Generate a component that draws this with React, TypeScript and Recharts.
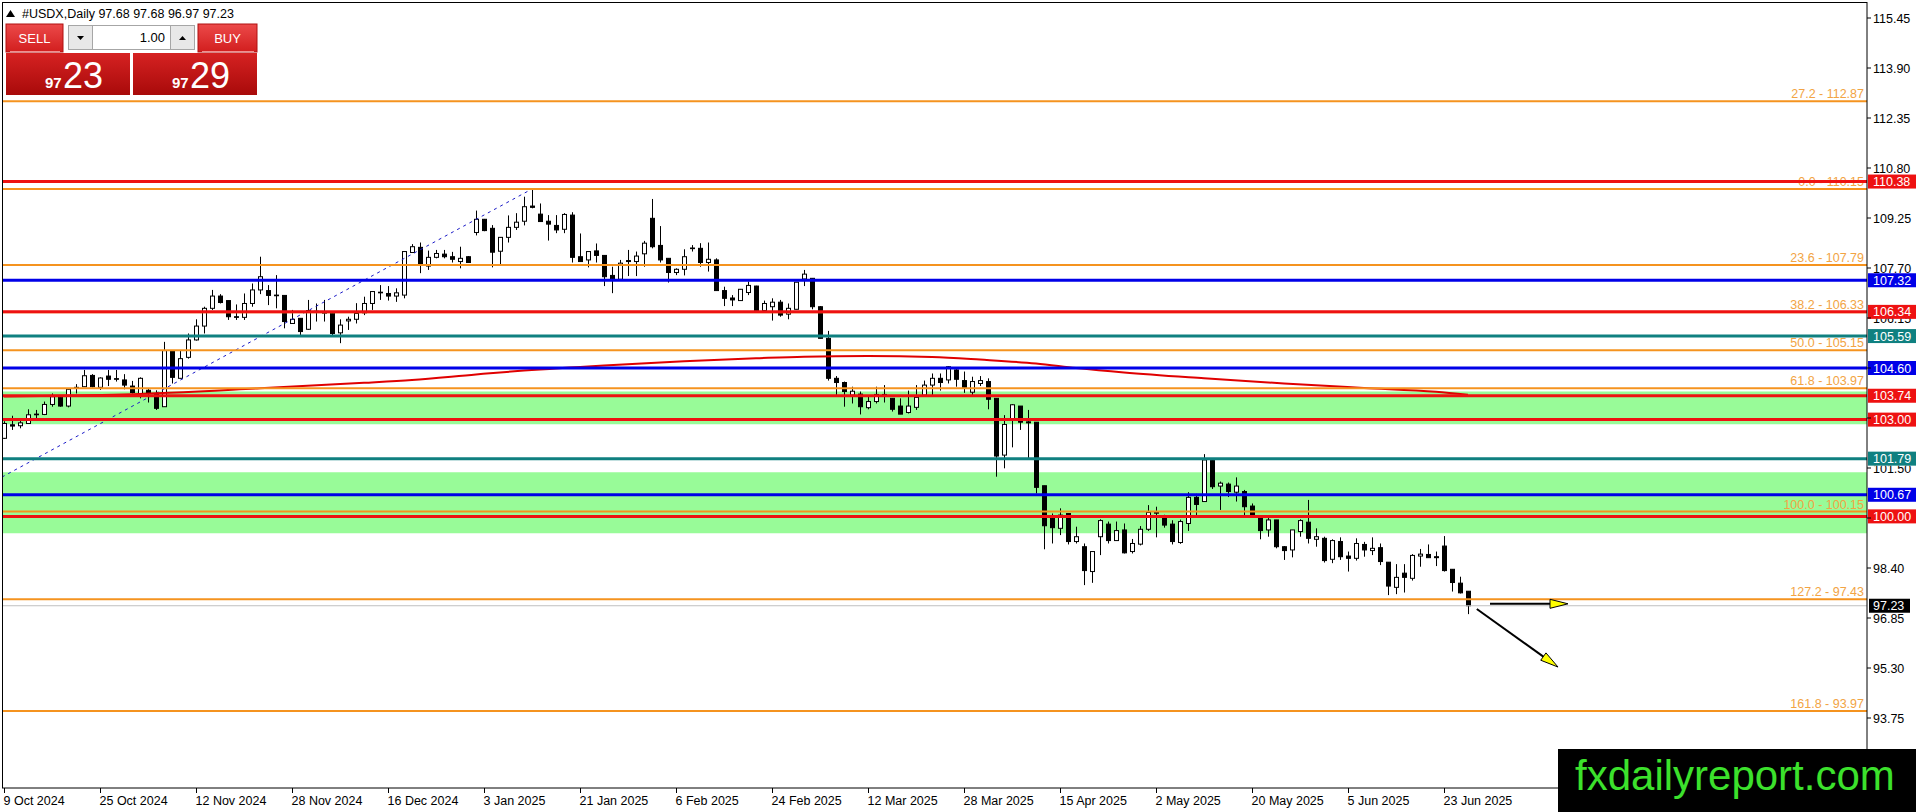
import React from 'react'
import {
  ComposedChart,
  Bar,
  Line,
  XAxis,
  YAxis,
  ReferenceLine,
  ReferenceArea,
} from 'recharts'

const FONT = '"Liberation Sans", Arial, sans-serif'
const W = 1916
const H = 812
const AXIS_W = 49
const DATE_H = 24
const PLOT_BOTTOM = H - DATE_H

// daily bars, 9 Oct 2024 .. 27 Jun 2025
const opens = [
  102.42, 102.84, 102.81, 102.88, 103.15, 103.16, 103.47, 103.69, 103.42, 103.97,
  104.02, 104.37, 104.0, 104.35, 104.27, 104.23, 104.04, 103.81, 103.91, 103.81,
  103.4, 105.14, 104.28, 104.93, 105.47, 105.9, 106.45, 106.83, 106.69, 106.19,
  106.17, 106.6, 107.02, 107.0, 106.86, 106.85, 105.98, 106.14, 105.8, 106.34,
  106.3, 106.3, 105.69, 106.06, 106.11, 106.31, 106.6, 106.93, 106.91, 106.83,
  106.86, 108.18, 108.34, 107.76, 108.03, 108.13, 108.05, 107.9, 108.05, 108.8,
  109.21, 108.93, 108.22, 108.65, 108.96, 109.15, 109.62, 109.37, 109.15, 109.02,
  108.9, 109.34, 108.05, 107.95, 108.23, 108.09, 107.47, 107.35, 107.93, 107.9,
  108.14, 109.24, 108.4, 108.0, 107.56, 107.66, 108.32, 108.31, 107.87, 107.95,
  107.0, 106.77, 106.69, 106.94, 107.14, 106.38, 106.5, 106.64, 106.27, 106.42,
  107.36, 107.38, 106.5, 105.52, 104.28, 104.15, 103.76, 103.79, 103.37, 103.56,
  103.78, 103.66, 103.42, 103.22, 103.38, 103.76, 104.07, 104.28, 104.23, 104.54,
  104.21, 103.85, 104.12, 104.18, 103.66, 101.9, 102.99, 103.42, 102.93, 102.92,
  100.95, 99.94, 99.63, 100.09, 99.22, 99.06, 98.29, 99.37, 99.76, 99.25,
  99.58, 98.91, 99.14, 99.6, 100.15, 99.97, 99.76, 99.19, 99.78, 100.59,
  100.46, 101.73, 100.94, 101.0, 100.75, 100.77, 100.32, 99.97, 99.58, 99.89,
  99.06, 98.96, 99.53, 99.82, 99.29, 99.32, 98.67, 99.22, 98.77, 98.7,
  99.13, 98.94, 99.03, 98.58, 97.8, 98.24, 98.08, 98.77, 98.82, 98.75,
  99.08, 98.36, 97.93, 97.68,
]
const highs = [
  102.95, 103.12, 102.99, 103.32, 103.3, 103.56, 103.81, 103.7, 103.97, 104.1,
  104.54, 104.41, 104.31, 104.54, 104.54, 104.41, 104.2, 104.31, 103.97, 103.91,
  105.41, 105.14, 105.14, 105.67, 106.11, 106.5, 107.02, 106.89, 106.69, 106.57,
  106.91, 107.22, 108.05, 107.17, 107.48, 106.85, 106.4, 106.14, 106.71, 106.6,
  106.71, 106.3, 106.11, 106.19, 106.61, 106.81, 106.97, 107.17, 107.14, 107.07,
  108.21, 108.44, 108.49, 108.24, 108.26, 108.26, 108.2, 108.36, 108.07, 109.48,
  109.22, 109.03, 108.66, 109.33, 109.4, 109.91, 110.15, 109.7, 109.34, 109.34,
  109.4, 109.43, 108.77, 108.21, 108.46, 108.1, 107.74, 107.95, 108.26, 108.21,
  108.54, 109.84, 109.0, 108.0, 107.69, 108.28, 108.41, 108.47, 108.49, 108.0,
  107.12, 106.86, 107.05, 107.28, 107.15, 106.69, 106.76, 106.71, 106.6, 107.26,
  107.64, 107.38, 106.52, 105.75, 104.35, 104.18, 104.02, 103.87, 103.71, 104.02,
  104.07, 103.66, 103.66, 103.9, 104.07, 104.21, 104.43, 104.43, 104.66, 104.59,
  104.49, 104.33, 104.35, 104.28, 103.66, 103.14, 103.48, 103.42, 103.3, 102.92,
  100.95, 100.09, 100.25, 100.09, 99.68, 99.16, 98.91, 99.91, 99.84, 99.84,
  99.78, 99.3, 99.7, 100.35, 100.3, 100.05, 99.88, 99.9, 100.75, 100.7,
  101.93, 101.75, 101.08, 101.05, 101.21, 100.82, 100.4, 99.97, 100.04, 99.89,
  99.08, 99.58, 99.91, 100.51, 99.63, 99.37, 99.29, 99.35, 98.91, 99.32,
  99.21, 99.35, 99.16, 98.58, 98.52, 98.52, 98.83, 98.99, 99.13, 98.91,
  99.39, 98.36, 98.13, 97.68,
]
const lows = [
  102.4, 102.68, 102.73, 102.88, 103.04, 103.14, 103.4, 103.4, 103.38, 103.81,
  104.02, 104.0, 103.92, 104.04, 104.18, 103.94, 103.81, 103.66, 103.53, 103.3,
  103.4, 104.12, 104.28, 104.89, 105.45, 105.67, 106.4, 106.6, 106.09, 106.09,
  106.09, 106.5, 106.89, 106.55, 106.45, 105.83, 105.98, 105.62, 105.78, 106.04,
  106.04, 105.62, 105.37, 105.78, 105.98, 106.24, 106.4, 106.71, 106.69, 106.65,
  106.76, 108.18, 107.54, 107.64, 108.0, 108.0, 107.87, 107.69, 107.87, 108.71,
  108.84, 107.72, 107.82, 108.49, 108.88, 109.02, 109.55, 109.13, 108.55, 108.78,
  108.78, 107.87, 107.9, 107.72, 107.87, 107.14, 106.92, 107.35, 107.45, 107.45,
  107.74, 108.31, 107.87, 107.25, 107.48, 107.47, 108.21, 107.74, 107.59, 107.0,
  106.52, 106.52, 106.68, 106.86, 106.35, 106.38, 106.07, 106.19, 106.11, 106.42,
  107.14, 106.42, 105.52, 104.21, 103.76, 103.4, 103.5, 103.16, 103.32, 103.5,
  103.53, 103.25, 103.17, 103.19, 103.3, 103.71, 103.76, 103.9, 104.12, 104.02,
  103.83, 103.76, 104.04, 103.32, 101.23, 101.49, 102.14, 102.68, 101.8, 100.71,
  98.98, 99.16, 99.42, 99.13, 99.16, 97.87, 97.94, 98.8, 99.16, 99.25,
  98.85, 98.85, 99.1, 99.55, 99.35, 99.65, 99.13, 99.15, 99.55, 100.0,
  100.46, 100.85, 100.2, 100.6, 100.46, 100.04, 100.0, 99.29, 99.37, 99.01,
  98.65, 98.73, 99.37, 99.16, 99.06, 98.57, 98.55, 98.65, 98.29, 98.63,
  98.75, 98.8, 98.49, 97.56, 97.59, 97.64, 98.01, 98.44, 98.72, 98.46,
  98.29, 97.67, 97.61, 96.97,
]
const closes = [
  102.88, 102.8, 102.9, 103.15, 103.17, 103.47, 103.71, 103.42, 103.94, 104.0,
  104.36, 104.02, 104.29, 104.25, 104.25, 104.07, 103.84, 104.28, 103.81, 103.35,
  105.14, 104.31, 104.89, 105.47, 105.9, 106.45, 106.83, 106.63, 106.19, 106.17,
  106.6, 107.02, 107.43, 106.85, 106.84, 106.04, 106.11, 105.73, 106.38, 106.36,
  106.32, 105.67, 105.93, 106.11, 106.29, 106.6, 106.97, 106.95, 106.83, 106.93,
  108.21, 108.36, 107.82, 108.03, 108.15, 108.05, 107.97, 108.0, 107.87, 109.21,
  108.86, 108.19, 108.65, 108.96, 109.12, 109.6, 109.58, 109.14, 109.06, 108.88,
  109.36, 108.03, 107.9, 108.21, 108.09, 107.43, 107.37, 107.85, 107.9, 108.07,
  108.47, 108.36, 107.95, 107.56, 107.66, 108.05, 108.3, 107.87, 107.97, 107.0,
  106.76, 106.71, 107.04, 107.16, 106.38, 106.6, 106.64, 106.24, 106.45, 107.26,
  107.51, 106.5, 105.52, 104.28, 104.15, 103.87, 103.88, 103.4, 103.56, 103.78,
  103.76, 103.32, 103.17, 103.42, 103.69, 104.07, 104.28, 104.15, 104.64, 104.25,
  104.0, 104.18, 104.21, 103.63, 101.87, 102.85, 103.46, 102.92, 102.9, 100.9,
  99.71, 99.65, 100.04, 99.22, 99.37, 98.32, 98.91, 99.87, 99.25, 99.56,
  98.87, 99.16, 99.6, 100.12, 100.1, 99.73, 99.22, 99.84, 100.59, 100.37,
  101.75, 100.92, 101.03, 100.77, 100.94, 100.3, 100.04, 99.56, 99.89, 99.06,
  98.94, 99.58, 99.87, 99.32, 99.37, 98.63, 99.25, 98.75, 98.7, 99.16,
  98.96, 99.01, 98.6, 97.84, 98.11, 98.11, 98.79, 98.83, 98.72, 98.72,
  98.32, 97.95, 97.63, 97.23,
]

const dateTicks = [0, 12, 24, 36, 48, 60, 72, 84, 96, 108, 120, 132, 144, 156, 168, 180]
const dateLabels = [
  '9 Oct 2024', '25 Oct 2024', '12 Nov 2024', '28 Nov 2024', '16 Dec 2024', '3 Jan 2025',
  '21 Jan 2025', '6 Feb 2025', '24 Feb 2025', '12 Mar 2025', '28 Mar 2025', '15 Apr 2025',
  '2 May 2025', '20 May 2025', '5 Jun 2025', '23 Jun 2025',
]
const priceTicks = [
  115.45, 113.9, 112.35, 110.8, 109.25, 107.7, 106.15, 104.6, 103.05, 101.5, 99.95, 98.4,
  96.85, 95.3, 93.75,
]

const fibRatios = ['27.2', '0.0', '23.6', '38.2', '50.0', '61.8', '100.0', '127.2', '161.8']
const fibPrices = [112.87, 110.15, 107.79, 106.33, 105.15, 103.97, 100.15, 97.43, 93.97]

const levelPrices = [110.38, 107.32, 106.34, 105.59, 104.6, 103.74, 103.0, 101.79, 100.67, 100.0]
const levelKinds = ['red', 'blue', 'red', 'teal', 'blue', 'red', 'red', 'teal', 'blue', 'red']
const lastPrice = 97.23

const zoneLows = [102.86, 99.48]
const zoneHighs = [103.87, 101.37]

// hand drawn arc over the range
const arcBars = [0, 15, 32, 45, 51, 59, 65, 75, 85, 94, 100, 108, 116, 122, 129, 134, 140, 150, 160, 170, 179, 183]
const arcValues = [
  103.72, 103.78, 103.97, 104.14, 104.23, 104.4, 104.52, 104.68, 104.81, 104.9, 104.95,
  104.97, 104.94, 104.86, 104.74, 104.6, 104.46, 104.28, 104.12, 103.98, 103.86, 103.77,
]

// fibo base line (dotted)
const trendBars = [-0.25, 66]
const trendValues = [101.22, 110.15]

// projection arrows: [bar, price] start -> end
const arrowStarts = [[185.75, 97.29], [184.1, 97.13]]
const arrowEnds = [[195.5, 97.29], [194.25, 95.33]]

const X_DOMAIN: [number, number] = [-0.25, 232.875]
const Y_DOMAIN: [number, number] = [91.58, 115.946]

const COLORS: Record<string, string> = {
  red: '#EE1111',
  blue: '#0000E8',
  teal: '#0F8080',
  fib: '#F5931F',
  fibText: '#F2A444',
}

const rows = opens.map((o, i) => ({ i, open: o, high: highs[i], low: lows[i], close: closes[i] }))
const arcData = arcBars.map((b, k) => ({ i: b, v: arcValues[k] }))
const trendData = trendBars.map((b, k) => ({ i: b, v: trendValues[k] }))

// axis label boxes sit on top of the scale; a tick hidden by one is not drawn
const boxPrices = [...levelPrices, lastPrice]
const PX_PER_UNIT = (H - DATE_H - 2) / (Y_DOMAIN[1] - Y_DOMAIN[0])

function Candle(props: any) {
  const { x, y, width, height, payload } = props
  if (!payload) return null
  const { open, high, low, close } = payload
  const top = Math.min(y, y + height)
  const h = Math.abs(height)
  const ppu = h / (high - low || 1)
  const cx = Math.round(x + width / 2) + 0.5
  const yOf = (v: number) => top + (high - v) * ppu
  const bTop = yOf(Math.max(open, close))
  const bBot = yOf(Math.min(open, close))
  const up = close >= open
  return (
    <g>
      <line x1={cx} x2={cx} y1={top} y2={top + h} stroke="#000" strokeWidth={1} />
      <rect
        x={cx - 2}
        y={bTop}
        width={4}
        height={Math.max(bBot - bTop, 0.6)}
        fill={up ? '#fff' : '#000'}
        stroke="#000"
        strokeWidth={1}
      />
    </g>
  )
}

const PriceTick = (props: any) => {
  const { x, y, payload } = props
  const v = payload.value as number
  const nearest = Math.min(...boxPrices.map((b) => Math.abs(b - v) * PX_PER_UNIT))
  if (nearest < 3.5) return null
  const text = (
    <text x={x} y={y + 4.5} fontSize={12.5} fontFamily={FONT} fill="#000">
      {v.toFixed(2)}
    </text>
  )
  // partly covered by a label box: keep only the part that shows
  const covering = boxPrices.find((b) => Math.abs(b - v) * PX_PER_UNIT < 12)
  if (covering === undefined) return text
  const by = y + (v - covering) * PX_PER_UNIT
  const below = v < covering
  const clipId = `tc${String(v).replace('.', '_')}`
  const cy = below ? by + 7 : y - 10
  const ch = below ? y + 10 - (by + 7) : by - 7 - (y - 10)
  return (
    <g>
      <defs>
        <clipPath id={clipId}>
          <rect x={x - 2} y={cy} width={60} height={Math.max(ch, 0)} />
        </clipPath>
      </defs>
      <g clipPath={`url(#${clipId})`}>{text}</g>
    </g>
  )
}

// the reference line may come in either direction; use its right end for labels
const ends = (p: any) => ({ l: Math.min(p.x1, p.x2), r: Math.max(p.x1, p.x2), y: p.y1 })

const FibShape = (label: string) => (p: any) => {
  const { l, r, y } = ends(p)
  return (
    <g>
      <line x1={l} x2={r} y1={y} y2={y} stroke={COLORS.fib} strokeWidth={2} />
      <text x={r - 3} y={y - 3} textAnchor="end" fontSize={12.5} fontFamily={FONT} fill={COLORS.fibText}>
        {label}
      </text>
    </g>
  )
}

const LevelShape = (value: number, color: string) => (p: any) => {
  const { l, r, y } = ends(p)
  return (
    <g>
      <line x1={l} x2={r} y1={y} y2={y} stroke={color} strokeWidth={3} />
      <rect x={r + 1} y={y - 7} width={AXIS_W} height={14} fill={color} />
      <text x={r + 6} y={y + 4.5} fontSize={12.5} fontFamily={FONT} fill="#fff">
        {value.toFixed(2)}
      </text>
    </g>
  )
}

const PriceShape = (value: number) => (p: any) => {
  const { l, r, y } = ends(p)
  return (
    <g>
      <line x1={l} x2={r} y1={y} y2={y} stroke="#C0C0C0" strokeWidth={1} />
      <rect x={r + 2} y={y - 7} width={41} height={14} fill="#000" />
      <text x={r + 6} y={y + 4.5} fontSize={12.5} fontFamily={FONT} fill="#fff">
        {value.toFixed(2)}
      </text>
    </g>
  )
}

const ArrowShape = (p: any) => {
  const dx = p.x2 - p.x1
  const dy = p.y2 - p.y1
  const len = Math.hypot(dx, dy) || 1
  const ux = dx / len
  const uy = dy / len
  const hl = 18
  const hw = 4.5
  const bx = p.x2 - ux * hl
  const by = p.y2 - uy * hl
  const pts = `${p.x2},${p.y2} ${bx - uy * hw},${by + ux * hw} ${bx + uy * hw},${by - ux * hw}`
  return (
    <g>
      <line x1={p.x1} y1={p.y1} x2={bx} y2={by} stroke="#000" strokeWidth={2} />
      <polygon points={pts} fill="#FFFF00" stroke="#000" strokeWidth={1} />
    </g>
  )
}

const DateTick = (props: any) => {
  const { x, payload } = props
  const k = dateTicks.indexOf(payload.value)
  if (k < 0) return null
  const tx = Math.round(x) + 0.5
  return (
    <g>
      <line x1={tx} x2={tx} y1={PLOT_BOTTOM} y2={PLOT_BOTTOM + 5} stroke="#000" />
      <text x={tx - 1} y={PLOT_BOTTOM + 16.5} fontSize={12.5} fontFamily={FONT} fill="#000">
        {dateLabels[k]}
      </text>
    </g>
  )
}

function Overlay() {
  return (
    <svg
      width={W}
      height={H}
      style={{ position: 'absolute', left: 0, top: 0, pointerEvents: 'none' }}
    >
      <defs>
        <linearGradient id="btnRed" x1="0" y1="0" x2="0" y2="1">
          <stop offset="0%" stopColor="#EC4A4A" />
          <stop offset="100%" stopColor="#D21E1E" />
        </linearGradient>
        <linearGradient id="boxRed" x1="0" y1="0" x2="0" y2="1">
          <stop offset="0%" stopColor="#D62222" />
          <stop offset="100%" stopColor="#A80A0A" />
        </linearGradient>
      </defs>
      {/* chart frame */}
      <line x1={2} x2={W - AXIS_W} y1={2.5} y2={2.5} stroke="#000" />
      <line x1={2.5} x2={2.5} y1={2} y2={PLOT_BOTTOM} stroke="#000" />

      {/* header */}
      <polygon points="6,17 10.5,10 15,17" fill="#000" />
      <text x={22} y={18} fontSize={12.5} fontFamily={FONT} fill="#000">
        #USDX,Daily  97.68 97.68 96.97 97.23
      </text>

      {/* one click trading panel */}
      <rect x={6} y={24} width={57} height={28} fill="url(#btnRed)" stroke="#B01010" />
      <line x1={10} x2={60} y1={51.5} y2={51.5} stroke="#F29090" />
      <text x={34.5} y={43} textAnchor="middle" fontSize={13} fontFamily={FONT} fill="#fff">SELL</text>
      <rect x={68.5} y={25.5} width={24} height={24} fill="#E8E8E8" stroke="#A6A6A6" />
      <polygon points="77,36 84,36 80.5,40" fill="#000" />
      <rect x={92.5} y={25.5} width={78} height={24} fill="#fff" stroke="#A6A6A6" />
      <text x={165} y={42} textAnchor="end" fontSize={13} fontFamily={FONT} fill="#000">1.00</text>
      <rect x={170.5} y={25.5} width={24} height={24} fill="#E8E8E8" stroke="#A6A6A6" />
      <polygon points="179,40 186,40 182.5,36" fill="#000" />
      <rect x={198} y={24} width={59} height={28} fill="url(#btnRed)" stroke="#B01010" />
      <line x1={202} x2={254} y1={51.5} y2={51.5} stroke="#F29090" />
      <text x={227.5} y={43} textAnchor="middle" fontSize={13} fontFamily={FONT} fill="#fff">BUY</text>
      <rect x={6} y={53} width={124} height={42} fill="url(#boxRed)" />
      <rect x={133} y={53} width={124} height={42} fill="url(#boxRed)" />
      <text x={45} y={88} fontSize={15} fontWeight="bold" fontFamily={FONT} fill="#fff">97</text>
      <text x={63} y={88} fontSize={36} fontFamily={FONT} fill="#fff">23</text>
      <text x={172} y={88} fontSize={15} fontWeight="bold" fontFamily={FONT} fill="#fff">97</text>
      <text x={190} y={88} fontSize={36} fontFamily={FONT} fill="#fff">29</text>

      {/* watermark */}
      <rect x={1558} y={749} width={W - 1558} height={H - 749} fill="#000" />
      <text x={1575} y={790} fontSize={42} fontFamily={FONT} fill="#3CE12C">fxdailyreport.com</text>
    </svg>
  )
}

export default function App() {
  return (
    <div
      style={{
        position: 'fixed',
        left: 0,
        top: 0,
        width: W,
        height: H,
        background: '#fff',
        overflow: 'hidden',
      }}
    >
      <ComposedChart
        width={W}
        height={H}
        data={rows}
        margin={{ top: 2, right: 0, bottom: 0, left: 2 }}
      >
        <XAxis
          dataKey="i"
          type="number"
          domain={X_DOMAIN}
          allowDataOverflow
          ticks={dateTicks}
          interval={0}
          height={DATE_H}
          tickLine={false}
          axisLine={{ stroke: '#000' }}
          tick={<DateTick />}
        />
        <YAxis
          orientation="right"
          type="number"
          domain={Y_DOMAIN}
          allowDataOverflow
          ticks={priceTicks}
          interval={0}
          width={AXIS_W}
          tickSize={4}
          tickMargin={2}
          axisLine={{ stroke: '#000' }}
          tickLine={{ stroke: '#000' }}
          tick={<PriceTick />}
        />

        {zoneLows.map((lo, k) => (
          <ReferenceArea
            key={`z${k}`}
            y1={lo}
            y2={zoneHighs[k]}
            fill="#98FB98"
            fillOpacity={1}
            stroke="none"
          />
        ))}

        <Line
          data={trendData}
          dataKey="v"
          type="linear"
          stroke="#1A1AC8"
          strokeWidth={1}
          strokeDasharray="3 4"
          dot={false}
          activeDot={false}
          isAnimationActive={false}
        />

        <Bar
          dataKey={(d: any) => [d.low, d.high]}
          shape={<Candle />}
          barSize={5}
          isAnimationActive={false}
        />

        <Line
          data={arcData}
          dataKey="v"
          type="monotone"
          stroke="#E00000"
          strokeWidth={2}
          dot={false}
          activeDot={false}
          isAnimationActive={false}
        />

        {fibPrices.map((v, k) => (
          <ReferenceLine key={`f${k}`} y={v} shape={FibShape(`${fibRatios[k]} - ${v.toFixed(2)}`)} />
        ))}
        {levelPrices.map((v, k) => (
          <ReferenceLine key={`l${k}`} y={v} shape={LevelShape(v, COLORS[levelKinds[k]])} />
        ))}
        <ReferenceLine y={lastPrice} shape={PriceShape(lastPrice)} />

        {arrowStarts.map((s, k) => (
          <ReferenceLine
            key={`a${k}`}
            segment={[
              { x: s[0], y: s[1] },
              { x: arrowEnds[k][0], y: arrowEnds[k][1] },
            ]}
            shape={ArrowShape}
          />
        ))}
      </ComposedChart>
      <Overlay />
    </div>
  )
}
